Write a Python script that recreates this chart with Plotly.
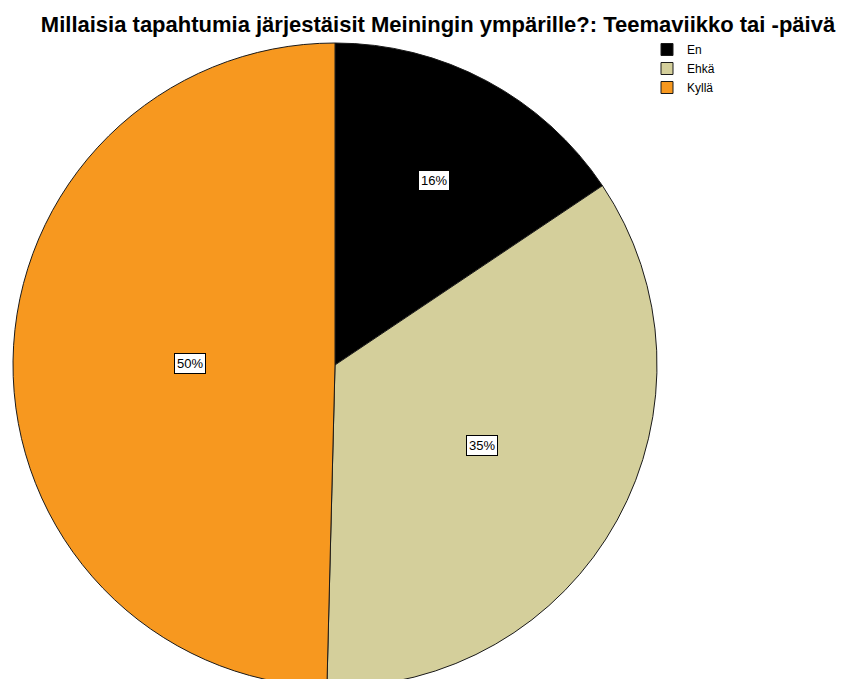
import math
import plotly.graph_objects as go

# Response shares (percent) for "Teemaviikko tai -päivä"
categories = ["En", "Ehkä", "Kyllä"]
shares = [15.6, 34.8, 49.6]
colors = ["#000000", "#D4CF9B", "#F7981F"]

title_text = "Millaisia tapahtumia järjestäisit Meiningin ympärille?: Teemaviikko tai -päivä"

W, H = 844, 687
M_L, M_T = 13, 43
SIDE = 644  # pie domain is a square of this size
FONT = "Liberation Sans, Arial, sans-serif"

fig = go.Figure(
    go.Pie(
        labels=categories,
        values=shares,
        sort=False,
        direction="clockwise",
        rotation=0,
        marker=dict(colors=colors, line=dict(color="#1a1a1a", width=1)),
        textinfo="none",
        hoverinfo="label+percent",
    )
)

# Boxed percentage labels placed along each slice's mid-angle
label_radius = [0.65, 0.52, 0.45]
total = sum(shares)
start = 0.0
for cat, val, rf in zip(categories, shares, label_radius):
    mid = (start + val / 2) / total * 2 * math.pi
    start += val
    fig.add_annotation(
        x=0.5 + 0.5 * rf * math.sin(mid),
        y=0.5 + 0.5 * rf * math.cos(mid),
        xref="paper", yref="paper",
        xanchor="center", yanchor="middle",
        text=f"{round(val / total * 100)}%",
        showarrow=False,
        font=dict(family=FONT, size=13, color="#000"),
        bgcolor="#ffffff",
        bordercolor="#000000",
        borderwidth=1,
        borderpad=2,
    )

fig.update_layout(
    width=W,
    height=H,
    margin=dict(l=M_L, r=W - M_L - SIDE, t=M_T, b=H - M_T - SIDE, pad=0),
    paper_bgcolor="#ffffff",
    plot_bgcolor="#ffffff",
    title=dict(
        text=f"<b>{title_text}</b>",
        x=438 / W, xref="container", xanchor="center",
        y=1 - 24 / H, yanchor="middle",
        font=dict(family=FONT, size=22, color="#000"),
    ),
    showlegend=True,
    legend=dict(
        x=(647 - M_L) / SIDE, xref="paper",
        y=(H - 35 - (H - M_T - SIDE)) / SIDE, yref="paper",
        xanchor="left", yanchor="top",
        font=dict(family=FONT, size=12, color="#000"),
        bgcolor="rgba(0,0,0,0)",
        itemwidth=30,
        tracegroupgap=0,
    ),
)

fig.write_html("out.html")
